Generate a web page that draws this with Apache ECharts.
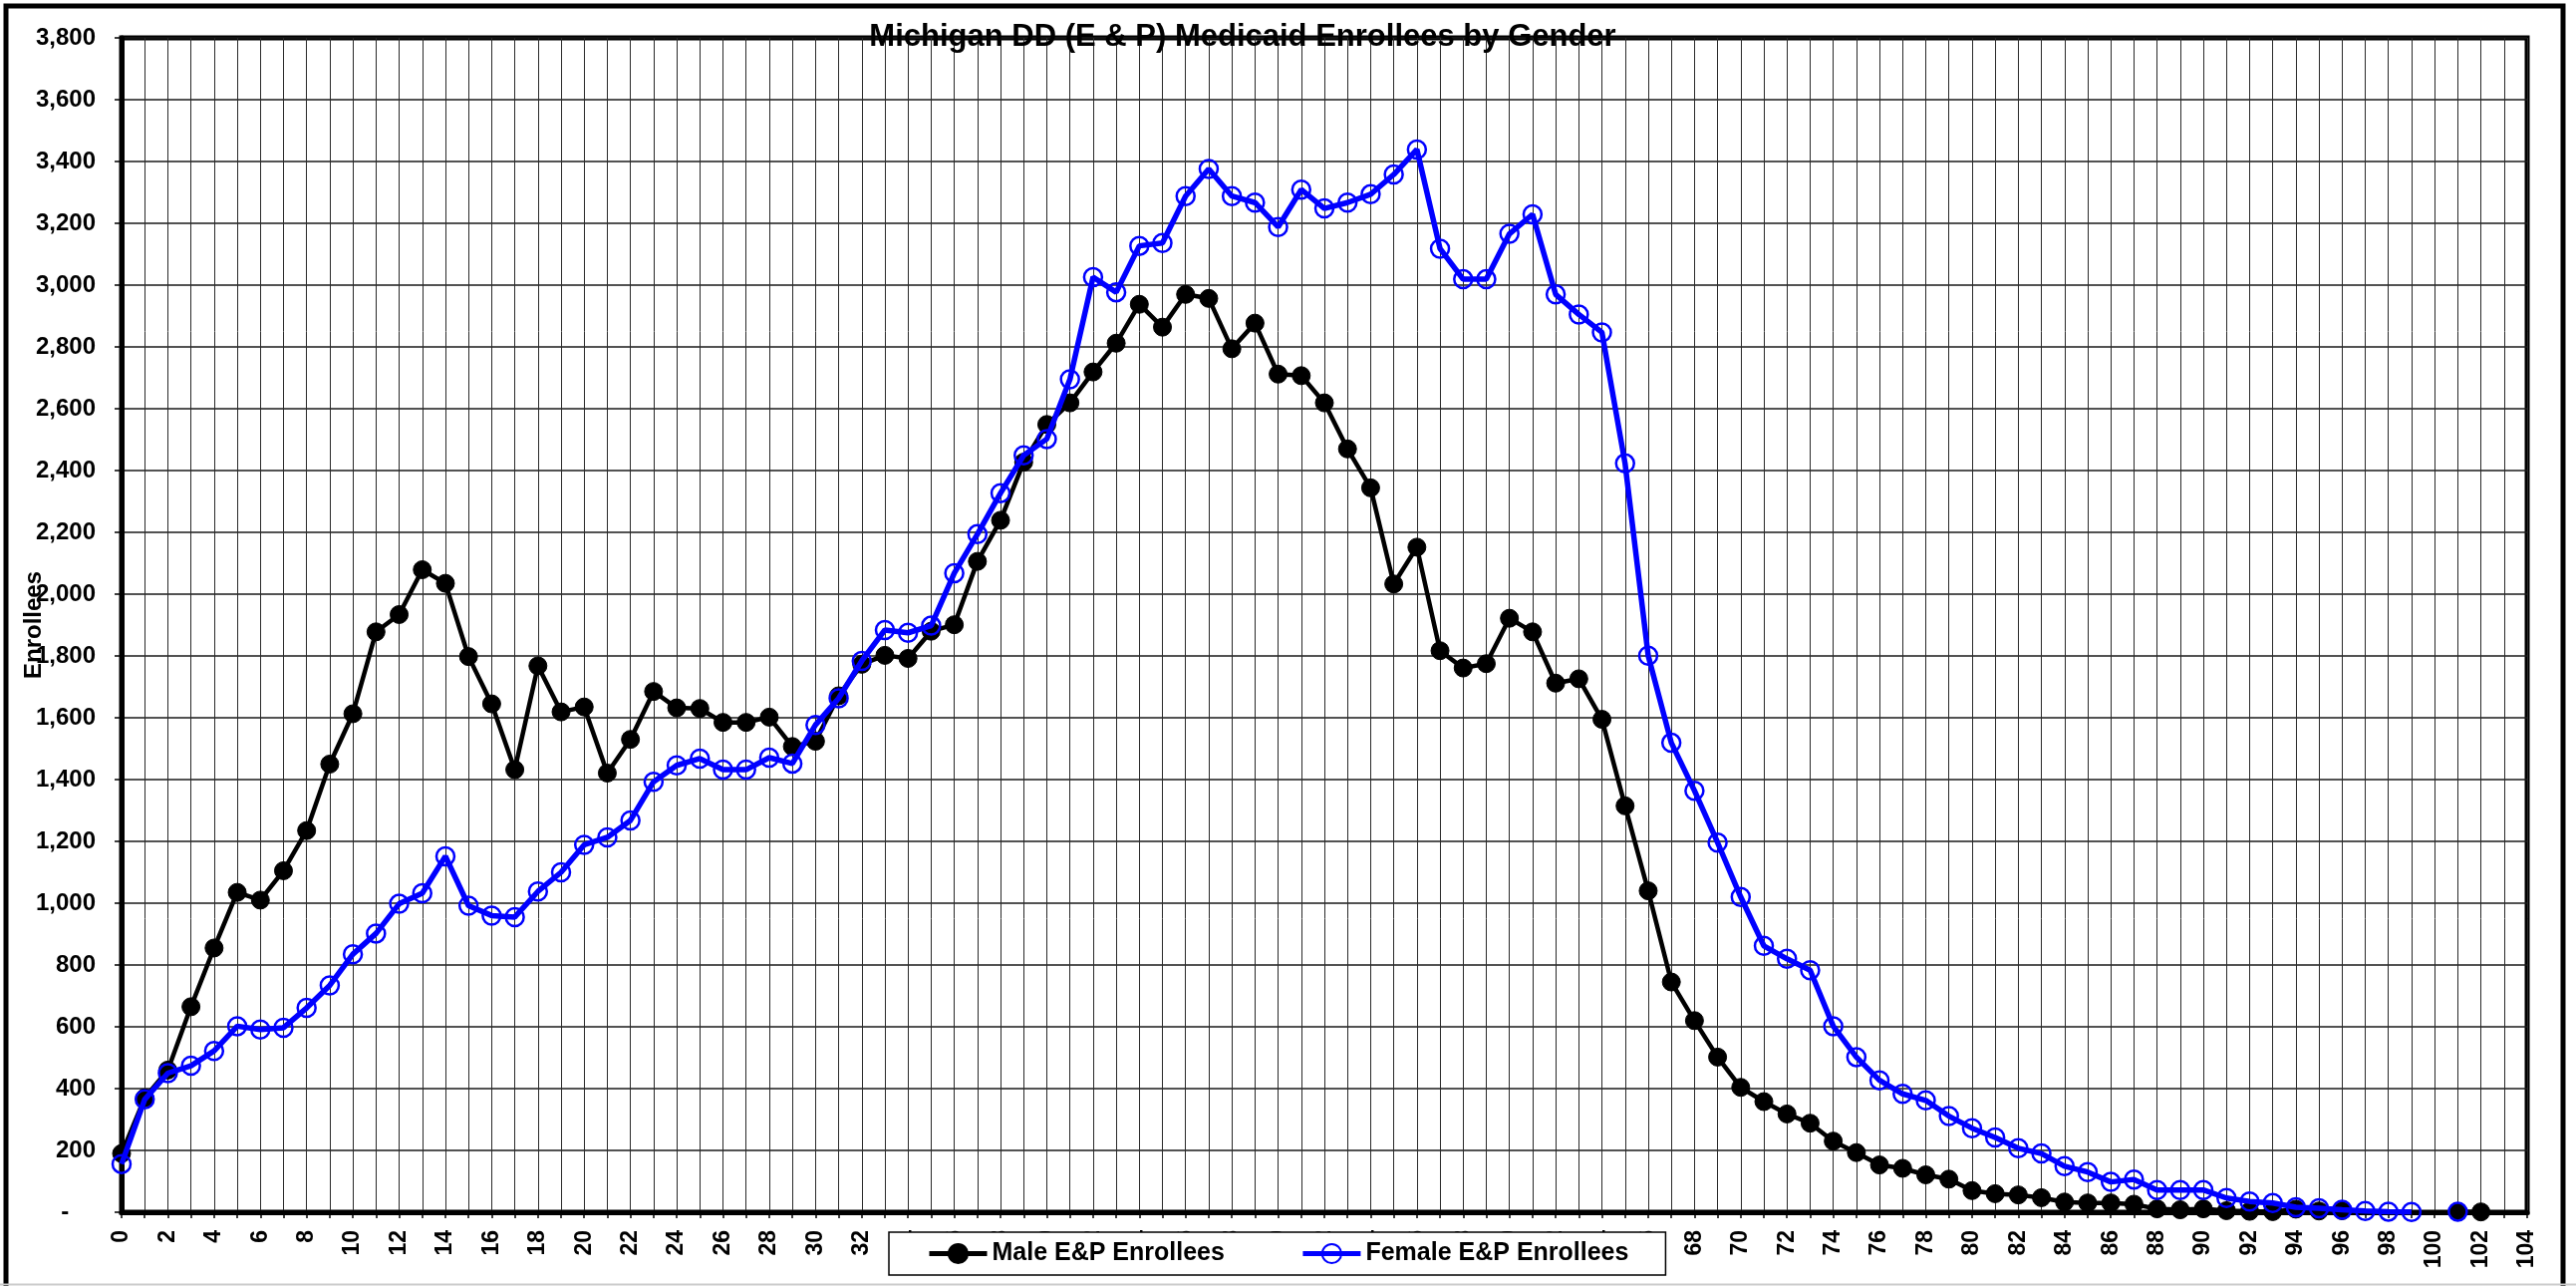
<!DOCTYPE html>
<html>
<head>
<meta charset="utf-8">
<title>Michigan DD (E &amp; P) Medicaid Enrollees by Gender</title>
<script src="https://cdn.jsdelivr.net/npm/echarts@6/dist/echarts.min.js"></script>
<style>
  html, body { margin: 0; padding: 0; background: #fff; }
  #chart { width: 2585px; height: 1290px; }
</style>
</head>
<body>
<div id="chart"></div>
<script>
// Age in years (0 to 104)
const ages = [
  '0','1','2','3','4','5','6','7','8','9','10','11','12','13','14','15','16','17','18','19',
  '20','21','22','23','24','25','26','27','28','29','30','31','32','33','34','35','36','37','38','39',
  '40','41','42','43','44','45','46','47','48','49','50','51','52','53','54','55','56','57','58','59',
  '60','61','62','63','64','65','66','67','68','69','70','71','72','73','74','75','76','77','78','79',
  '80','81','82','83','84','85','86','87','88','89','90','91','92','93','94','95','96','97','98','99',
  '100','101','102','103','104'
];

// Male E&P enrollees by age (null = no enrollees reported)
const maleEnrollees = [
  190, 370, 460, 665, 855, 1035, 1010, 1105, 1235, 1450,
  1613, 1878, 1934, 2079, 2035, 1798, 1645, 1432, 1768, 1619,
  1635, 1421, 1530, 1685, 1632, 1630, 1585, 1585, 1602, 1507,
  1524, 1671, 1773, 1802, 1792, 1880, 1901, 2106, 2239, 2427,
  2549, 2619, 2719, 2812, 2938, 2864, 2970, 2957, 2794, 2877,
  2712, 2707, 2619, 2470, 2344, 2033, 2152, 1817, 1761, 1775,
  1922, 1878, 1712, 1726, 1595, 1315, 1040, 745, 620, 502,
  404, 358, 318, 288, 230, 193, 153, 142, 121, 107,
  70, 60, 56, 47, 33, 30, 30, 26, 11, 8,
  11, 5, 3, 2, 10, 4, 5, null, null, null,
  null, 2, 1, null, null
];

// Female E&P enrollees by age
const femaleEnrollees = [
  156, 365, 450, 474, 522, 602, 591, 597, 661, 734,
  835, 902, 998, 1032, 1152, 992, 960, 955, 1038, 1100,
  1189, 1213, 1268, 1393, 1446, 1468, 1432, 1432, 1471, 1452,
  1577, 1663, 1784, 1884, 1875, 1898, 2068, 2194, 2327, 2449,
  2502, 2695, 3026, 2977, 3127, 3136, 3288, 3376, 3288, 3267,
  3188, 3309, 3248, 3267, 3294, 3358, 3439, 3118, 3019, 3019,
  3166, 3229, 2970, 2905, 2847, 2423, 1801, 1519, 1364, 1196,
  1020, 862, 820, 783, 602, 502, 427, 383, 362, 311,
  272, 242, 207, 190, 149, 130, 98, 106, 72, 72,
  72, 46, 35, 30, 16, 13, 8, 4, 2, 1,
  null, 2, null, null, null
];

const FONT = '"Liberation Sans", Arial, Helvetica, sans-serif';

const chart = echarts.init(document.getElementById('chart'), null, { renderer: 'canvas' });

chart.setOption({
  animation: false,
  backgroundColor: '#ffffff',
  textStyle: { fontFamily: FONT, color: '#000' },
  title: {
    text: 'Michigan DD (E & P) Medicaid Enrollees by Gender',
    left: 1247,
    top: 22,
    textAlign: 'center',
    padding: 0,
    textStyle: { fontFamily: FONT, fontSize: 31, fontWeight: 'bold', color: '#000' }
  },
  legend: {
    left: 892,
    top: 1236,
    padding: [9, 37, 9, 38],
    itemGap: 76,
    itemWidth: 58,
    itemHeight: 24,
    backgroundColor: '#ffffff',
    borderColor: '#000000',
    borderWidth: 1.5,
    lineStyle: { width: 5 },
    textStyle: { fontFamily: FONT, fontSize: 25, fontWeight: 'bold', color: '#000' },
    data: ['Male E&P Enrollees', 'Female E&P Enrollees']
  },
  grid: {
    left: 122,
    top: 38,
    right: 49,
    bottom: 74,
    show: true,
    borderColor: '#000',
    borderWidth: 5,
    backgroundColor: '#ffffff',
    containLabel: false
  },
  xAxis: {
    type: 'category',
    data: ages,
    boundaryGap: false,
    axisLine: { show: true, lineStyle: { color: '#000', width: 5 } },
    axisTick: { show: true, interval: 0, length: 6, lineStyle: { color: '#000', width: 1.5 } },
    axisLabel: {
      interval: 1,
      rotate: 90,
      margin: 18,
      fontFamily: FONT,
      fontSize: 23,
      fontWeight: 'bold',
      color: '#000'
    },
    splitLine: { show: true, interval: 0, lineStyle: { color: '#2a2a2a', width: 1 } }
  },
  yAxis: {
    type: 'value',
    min: 0,
    max: 3800,
    interval: 200,
    name: 'Enrollees',
    nameLocation: 'middle',
    nameGap: 76,
    nameMoveOverlap: false,
    nameTextStyle: { fontFamily: FONT, fontSize: 24, fontWeight: 'bold', color: '#000' },
    axisLine: { show: true, lineStyle: { color: '#000', width: 5 } },
    axisTick: { show: true, length: 7, lineStyle: { color: '#000', width: 1.5 } },
    axisLabel: {
      margin: 26,
      fontFamily: FONT,
      fontSize: 24,
      fontWeight: 'bold',
      color: '#000',
      formatter: function (v) {
        return v === 0 ? '-    ' : v.toLocaleString('en-US');
      }
    },
    splitLine: { show: true, lineStyle: { color: '#1a1a1a', width: 1.5 } }
  },
  series: [
    {
      name: 'Male E&P Enrollees',
      type: 'line',
      data: maleEnrollees,
      connectNulls: false,
      showSymbol: true,
      showAllSymbol: true,
      symbol: 'circle',
      symbolSize: 18,
      lineStyle: { color: '#000', width: 4.5 },
      itemStyle: { color: '#000', borderColor: '#000', borderWidth: 1 },
      z: 3
    },
    {
      name: 'Female E&P Enrollees',
      type: 'line',
      data: femaleEnrollees,
      connectNulls: false,
      showSymbol: true,
      showAllSymbol: true,
      symbol: 'circle',
      symbolSize: 18,
      lineStyle: { color: '#0000ff', width: 5.5 },
      itemStyle: { color: 'rgba(255,255,255,0)', borderColor: '#0000ff', borderWidth: 2.5 },
      z: 4
    }
  ],
  graphic: [
    {
      type: 'rect',
      silent: true,
      z: 100,
      shape: { x: 6, y: 6, width: 2566, height: 1300 },
      style: { fill: null, stroke: '#000', lineWidth: 5 }
    },
    {
      type: 'line',
      silent: true,
      z: 101,
      shape: { x1: 0, y1: 1288.5, x2: 2585, y2: 1288.5 },
      style: { stroke: '#cccccc', lineWidth: 2 }
    }
  ]
});
</script>
</body>
</html>
